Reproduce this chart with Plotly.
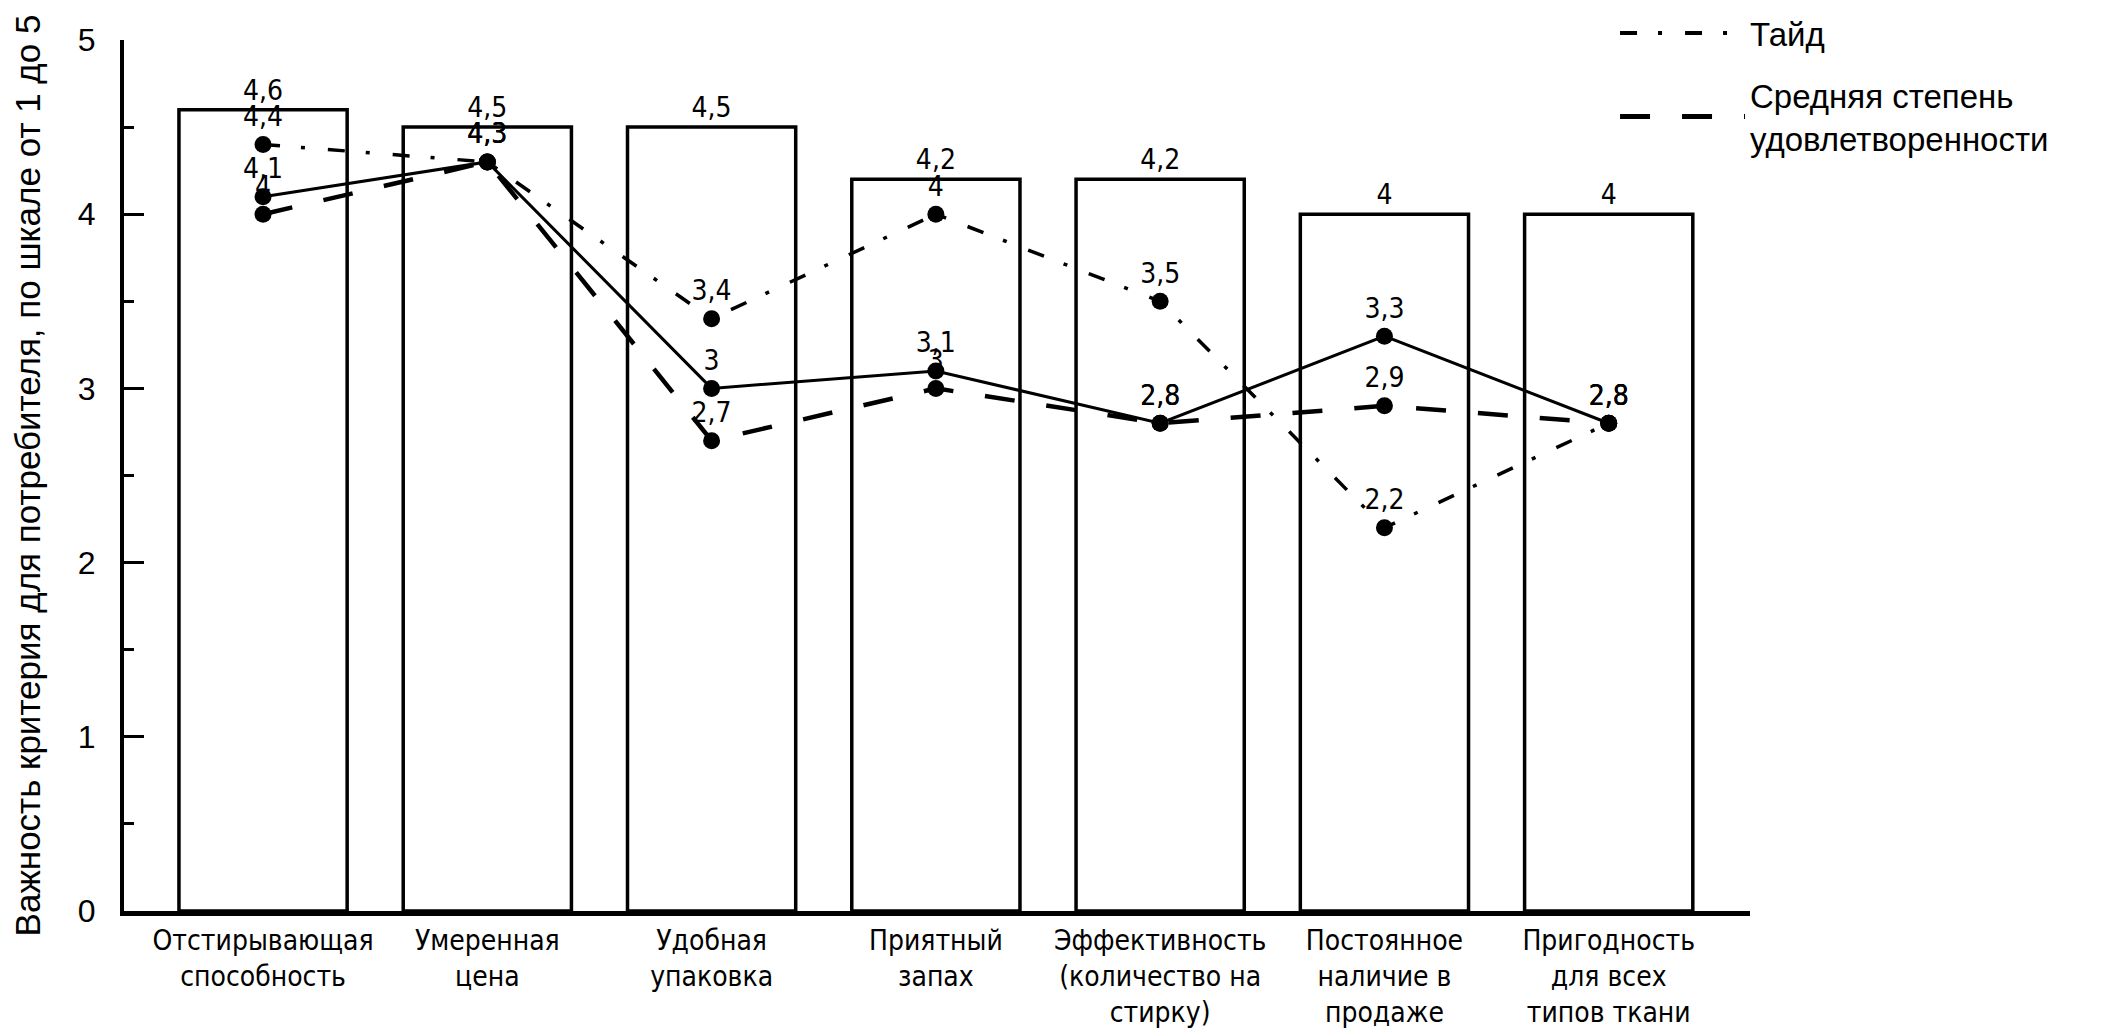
import plotly.graph_objects as go

categories = [
    "Отстирывающая<br>способность",
    "Умеренная<br>цена",
    "Удобная<br>упаковка",
    "Приятный<br>запах",
    "Эффективность<br>(количество на<br>стирку)",
    "Постоянное<br>наличие в<br>продаже",
    "Пригодность<br>для всех<br>типов ткани",
]
importance = [4.6, 4.5, 4.5, 4.2, 4.2, 4.0, 4.0]
tide = [4.4, 4.3, 3.4, 4.0, 3.5, 2.2, 2.8]
other_brand = [4.1, 4.3, 3.0, 3.1, 2.8, 3.3, 2.8]
average = [4.0, 4.3, 2.7, 3.0, 2.8, 2.9, 2.8]

y_ticks = [0, 1, 2, 3, 4, 5]

NARROW = "Liberation Sans Narrow, Arial Narrow, DejaVu Sans Condensed, Liberation Sans, sans-serif"
REG = "Liberation Sans, Arial, Helvetica, sans-serif"

def lab(vals):
    return [f"{v:g}".replace(".", ",") for v in vals]

x = list(range(len(categories)))

fig = go.Figure()
fig.add_trace(go.Bar(
    x=x, y=importance, width=0.75,
    marker=dict(color="white", line=dict(color="black", width=3.5)),
    text=lab(importance), textposition="outside",
    textfont=dict(family=NARROW, size=28, color="black"),
    cliponaxis=False, showlegend=False,
))

TIDE_DASH = "17px,21px,4px,23px"
AVG_DASH = "30px,32px"

fig.add_trace(go.Scatter(
    x=x, y=tide, mode="lines+markers+text",
    line=dict(color="black", width=3.5, dash=TIDE_DASH),
    marker=dict(color="black", size=17),
    text=lab(tide), textposition="top center",
    textfont=dict(family=NARROW, size=28, color="black"),
    cliponaxis=False, showlegend=False,
))
fig.add_trace(go.Scatter(
    x=x, y=other_brand, mode="lines+markers+text",
    line=dict(color="black", width=3),
    marker=dict(color="black", size=17),
    text=lab(other_brand), textposition="top center",
    textfont=dict(family=NARROW, size=28, color="black"),
    cliponaxis=False, showlegend=False,
))
fig.add_trace(go.Scatter(
    x=x, y=average, mode="lines+markers+text",
    line=dict(color="black", width=4.5, dash=AVG_DASH),
    marker=dict(color="black", size=17),
    text=lab(average), textposition="top center",
    textfont=dict(family=NARROW, size=28, color="black"),
    cliponaxis=False, showlegend=False,
))

# legend entries (line samples only)
fig.add_trace(go.Scatter(x=[None], y=[None], mode="lines", name="Тайд",
                         legendgroup="a",
                         line=dict(color="black", width=4, dash=TIDE_DASH)))
fig.add_trace(go.Scatter(x=[None], y=[None], mode="lines",
                         name="Средняя степень<br>удовлетворенности",
                         legendgroup="b",
                         line=dict(color="black", width=5, dash=AVG_DASH)))

fig.update_layout(
    width=2103, height=1021,
    margin=dict(l=116, r=361, t=32, b=118, autoexpand=False),
    plot_bgcolor="white", paper_bgcolor="white",
    font=dict(family=REG, size=26, color="black"),
    bargap=0.25,
    legend=dict(x=0.917, y=1.04, xanchor="left", yanchor="top",
                font=dict(family=REG, size=33), itemwidth=125,
                tracegroupgap=16, bgcolor="rgba(0,0,0,0)"),
    xaxis=dict(
        range=[-0.62, 6.63], tickmode="array", tickvals=x, ticktext=categories,
        showline=True, linecolor="black", linewidth=5, ticks="",
        showgrid=False, zeroline=False, automargin=False,
        tickfont=dict(family=NARROW, size=28),
    ),
    yaxis=dict(
        range=[0, 5], tickmode="array", tickvals=y_ticks,
        showline=True, linecolor="black", linewidth=4,
        ticks="inside", ticklen=20, tickwidth=3, tickcolor="black",
        minor=dict(ticks="inside", dtick=0.5, ticklen=10, tickwidth=3, tickcolor="black", showgrid=False),
        showgrid=False, zeroline=False, automargin=False,
        tickfont=dict(family=REG, size=32),
        ticklabelstandoff=18,
        title=dict(text="Важность критерия для потребителя, по шкале от 1 до 5",
                   font=dict(family=REG, size=35), standoff=56),
    ),
)

fig.write_html("out.html")
